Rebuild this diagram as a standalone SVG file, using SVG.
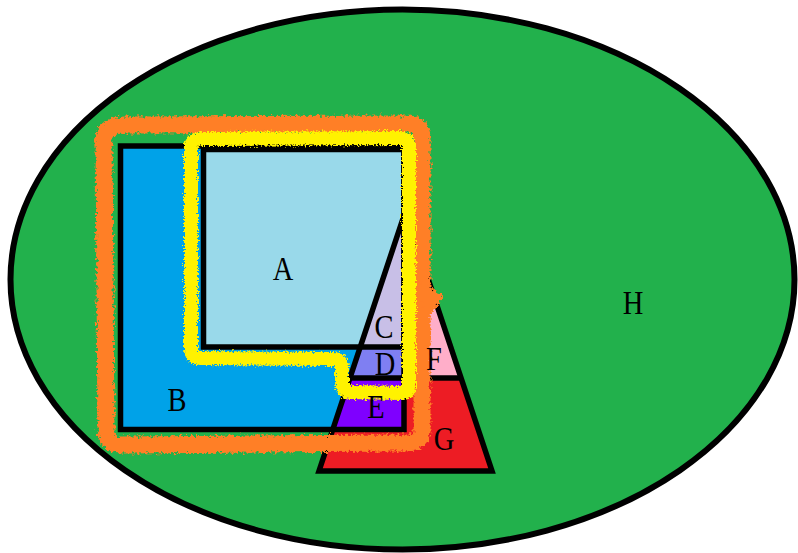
<svg xmlns="http://www.w3.org/2000/svg" width="798" height="553" viewBox="0 0 798 553">
<defs>
<style>
.ln{fill:none;stroke:#000;stroke-width:5.5;stroke-linejoin:miter}
.lbl{font-family:"Liberation Serif","Times New Roman",serif;font-size:28.5px;fill:#000;text-anchor:middle}
.fuzz{fill:none;stroke-linejoin:round;stroke-linecap:round}
</style>
<filter id="rough" filterUnits="userSpaceOnUse" x="0" y="0" width="798" height="553">
<feTurbulence type="fractalNoise" baseFrequency="0.55" numOctaves="2" seed="4" result="n"/>
<feDisplacementMap in="SourceGraphic" in2="n" scale="7" xChannelSelector="R" yChannelSelector="G"/>
</filter>
<filter id="roughsoft" filterUnits="userSpaceOnUse" x="0" y="0" width="798" height="553">
<feTurbulence type="fractalNoise" baseFrequency="0.35" numOctaves="2" seed="9" result="n"/>
<feDisplacementMap in="SourceGraphic" in2="n" scale="8" xChannelSelector="R" yChannelSelector="G" result="d"/>
<feGaussianBlur in="d" stdDeviation="0.7"/>
</filter>
</defs>
<rect width="798" height="553" fill="#fff"/>
<g id="H">
<ellipse cx="402.5" cy="279.5" rx="392" ry="270" fill="#22b14c" stroke="#000" stroke-width="6"/>
</g>
<g id="B">
<rect x="120.5" y="146" width="283.5" height="283.5" fill="#00a2e8"/>
</g>
<g id="A">
<rect x="203.5" y="149.5" width="200.5" height="197.5" fill="#99d9ea"/>
</g>
<g id="G">
<polygon points="405.5,211 319,471 492,471" fill="#ed1c24"/>
</g>
<g id="C">
<polygon points="405.5,211 360.25,347 404,347 404,215" fill="#c8bfe7"/>
</g>
<g id="F">
<polygon points="404,215 405.5,211 461.1,378 404,378" fill="#ffaec9"/>
</g>
<g id="D">
<polygon points="360.25,347 349.9,378 404,378 404,347" fill="#7f7ff2"/>
</g>
<g id="E">
<polygon points="349.9,378 332.8,429.5 404,429.5 404,378" fill="#7f00ff"/>
</g>
<g id="outlines">
<rect class="ln" x="120.5" y="146" width="283.5" height="283.5"/>
<rect class="ln" x="203.5" y="149.5" width="200.5" height="197.5"/>
<polygon class="ln" points="405.5,211 319,471 492,471" stroke-width="6.5"/>
<line class="ln" x1="349.9" y1="378" x2="461.1" y2="378"/>
</g>
<g id="connectors">
<g id="orange" filter="url(#roughsoft)">
<path class="fuzz" stroke="#ff7f27" stroke-width="17" d="M104 145 C102 130 110 125 125 125 L408 124 C418 124 422 128 422 140 L422 430 C422 440 416 443 405 443 L122 445 C110 445 106 440 106 428 Z"/>
<polygon points="420,281 444,296 428,318 422,318" fill="#ff7f27"/>
</g>
<g id="yellow" filter="url(#rough)">
<path class="fuzz" stroke="#fff200" stroke-width="14" d="M191 150 C190 142 195 139 203 139 L400 138 C407 138 409 141 409 150 L409 386 C409 392 406 393 400 393 L350 392 C344 392 342 388 342 382 L342 367 C342 361 339 359 332 359 L200 358 C194 358 191 355 191 348 Z"/>
</g>
</g>
<g id="labels">
<text class="lbl" transform="translate(283,280) scale(1,1.17)">A</text>
<text class="lbl" transform="translate(177,411) scale(1,1.17)">B</text>
<text class="lbl" transform="translate(384,338) scale(1,1.17)">C</text>
<text class="lbl" transform="translate(385,375) scale(1,1.17)">D</text>
<text class="lbl" transform="translate(376,418) scale(1,1.17)">E</text>
<text class="lbl" transform="translate(434,370) scale(1,1.17)">F</text>
<text class="lbl" transform="translate(444,450) scale(1,1.17)">G</text>
<text class="lbl" transform="translate(633,314) scale(1,1.17)">H</text>
</g>
</svg>
